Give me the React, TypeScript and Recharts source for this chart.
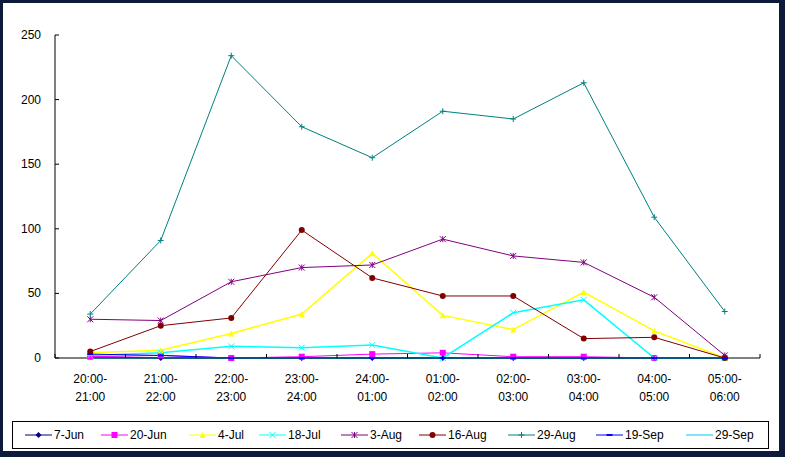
import React from "react";
import { LineChart, Line, XAxis, YAxis } from "recharts";

const startTimes = ["20:00-", "21:00-", "22:00-", "23:00-", "24:00-", "01:00-", "02:00-", "03:00-", "04:00-", "05:00-"];
const endTimes = ["21:00", "22:00", "23:00", "24:00", "01:00", "02:00", "03:00", "04:00", "05:00", "06:00"];
const yTicks = [0, 50, 100, 150, 200, 250];

const jun7 = [1, 0, 0, 0, 0, 0, 0, 0, 0, 0];
const jun20 = [1, 2, 0, 1, 3, 4, 1, 1, 0, 0];
const jul4 = [4, 6, 19, 34, 81, 33, 22, 51, 21, 0];
const jul18 = [2, 4, 9, 8, 10, 0, 35, 45, 0, 0];
const aug3 = [30, 29, 59, 70, 72, 92, 79, 74, 47, 2];
const aug16 = [5, 25, 31, 99, 62, 48, 48, 15, 16, 0];
const aug29 = [34, 91, 234, 179, 155, 191, 185, 213, 109, 36];
const sep19 = [3, 2, 0, 0, 0, 0, 0, 0, 0, 0];
const sep29 = [0, 0, 0, 0, 0, 0, 0, 0, 0, 0];

const seriesNames = ["7-Jun", "20-Jun", "4-Jul", "18-Jul", "3-Aug", "16-Aug", "29-Aug", "19-Sep", "29-Sep"];
const seriesValues = [jun7, jun20, jul4, jul18, aug3, aug16, aug29, sep19, sep29];
const seriesColors = ["#000080", "#ff00ff", "#ffff00", "#00ffff", "#800080", "#800000", "#008080", "#0000ff", "#00ccff"];
const seriesMarkers = ["diamond", "square", "triangle", "cross", "star", "circle", "plus", "dash", "none"];

const data = startTimes.map((_, i) => {
  const row: any = { idx: i };
  seriesNames.forEach((name, s) => {
    row[name] = seriesValues[s][i];
  });
  return row;
});

const xTicks: number[] = [];
for (let i = 0; i <= 20; i++) xTicks.push(-0.5 + i * 0.5);

const FONT = "'Liberation Sans', Arial, sans-serif";
const legendWidths = [76, 88, 70, 82, 78, 89, 88, 90, 80];

const Marker = ({ cx, cy, kind, color }: any) => {
  if (cx == null || cy == null) return null;
  const r = 3;
  switch (kind) {
    case "diamond":
      return <path d={`M${cx},${cy - r} L${cx + r},${cy} L${cx},${cy + r} L${cx - r},${cy} Z`} fill={color} />;
    case "square":
      return <rect x={cx - r} y={cy - r} width={r * 2} height={r * 2} fill={color} />;
    case "triangle":
      return <path d={`M${cx},${cy - r} L${cx + r},${cy + r} L${cx - r},${cy + r} Z`} fill={color} />;
    case "circle":
      return <circle cx={cx} cy={cy} r={r} fill={color} />;
    case "cross":
      return (
        <path d={`M${cx - r},${cy - r} L${cx + r},${cy + r} M${cx - r},${cy + r} L${cx + r},${cy - r}`} stroke={color} strokeWidth={1} />
      );
    case "star":
      return (
        <path
          d={`M${cx - r},${cy - r} L${cx + r},${cy + r} M${cx - r},${cy + r} L${cx + r},${cy - r} M${cx},${cy - r} L${cx},${cy + r}`}
          stroke={color}
          strokeWidth={1}
        />
      );
    case "plus":
      return <path d={`M${cx - r},${cy} L${cx + r},${cy} M${cx},${cy - r} L${cx},${cy + r}`} stroke={color} strokeWidth={1} />;
    case "dash":
      return <path d={`M${cx - r},${cy} L${cx + r},${cy}`} stroke={color} strokeWidth={2} />;
    default:
      return null;
  }
};

const XTick = ({ x, y, payload }: any) => {
  const v = payload.value;
  if (!Number.isInteger(v)) {
    return <line x1={x} x2={x} y1={y} y2={y - 4} stroke="#000" />;
  }
  return (
    <g>
      <text x={x} y={y + 25} textAnchor="middle" fontSize={12} fontFamily={FONT} fill="#000">
        {startTimes[v]}
      </text>
      <text x={x} y={y + 43} textAnchor="middle" fontSize={12} fontFamily={FONT} fill="#000">
        {endTimes[v]}
      </text>
    </g>
  );
};

const YTick = ({ x, y, payload }: any) => (
  <g>
    <line x1={x} x2={x + 4} y1={y} y2={y} stroke="#000" />
    <text x={x - 14} y={y + 4} textAnchor="end" fontSize={12} fontFamily={FONT} fill="#000">
      {payload.value}
    </text>
  </g>
);

export default function App() {
  return (
    <div style={{ position: "absolute", left: 0, top: 0, width: 785, height: 457, background: "#fff" }}>
      <style>{`body{margin:0}`}</style>
      <div
        style={{
          position: "absolute",
          left: 0,
          top: 0,
          width: 785,
          height: 457,
          boxSizing: "border-box",
          borderStyle: "solid",
          borderColor: "#0d1a3a",
          borderWidth: "3px 6px 6px 3px",
        }}
      />
      <div style={{ position: "absolute", left: 0, top: 0 }}>
        <LineChart width={785} height={457} data={data} margin={{ top: 35, right: 25, bottom: 54, left: 0 }}>
          <XAxis
            dataKey="idx"
            type="number"
            domain={[-0.5, 9.5]}
            ticks={xTicks}
            interval={0}
            tickLine={false}
            tickSize={0}
            tickMargin={0}
            tick={<XTick />}
            axisLine={{ stroke: "#000" }}
            height={45}
          />
          <YAxis
            domain={[0, 250]}
            ticks={yTicks}
            interval={0}
            width={55}
            tickLine={false}
            tickSize={0}
            tickMargin={0}
            tick={<YTick />}
            axisLine={{ stroke: "#000" }}
          />
          {seriesNames.map((name, s) => (
            <Line
              key={name}
              dataKey={name}
              stroke={seriesColors[s]}
              strokeWidth={s === 2 || s === 3 || s === 8 ? 1.5 : 1}
              isAnimationActive={false}
              dot={(p: any) => <Marker key={p.index} cx={p.cx} cy={p.cy} kind={seriesMarkers[s]} color={seriesColors[s]} />}
              activeDot={false}
            />
          ))}
        </LineChart>
      </div>
      <div
        style={{
          position: "absolute",
          left: 12,
          top: 421,
          width: 757,
          height: 28,
          boxSizing: "border-box",
          border: "1px solid #000",
          display: "flex",
          alignItems: "center",
          paddingLeft: 12,
          fontFamily: FONT,
          fontSize: 12,
        }}
      >
        {seriesNames.map((name, s) => (
          <div key={name} style={{ display: "flex", alignItems: "center", width: legendWidths[s] }}>
            <svg width={27} height={10} style={{ marginRight: 2 }}>
              <line x1={0} x2={27} y1={5} y2={5} stroke={seriesColors[s]} strokeWidth={1} />
              <Marker cx={13.5} cy={5} kind={seriesMarkers[s]} color={seriesColors[s]} />
            </svg>
            <span>{name}</span>
          </div>
        ))}
      </div>
    </div>
  );
}
